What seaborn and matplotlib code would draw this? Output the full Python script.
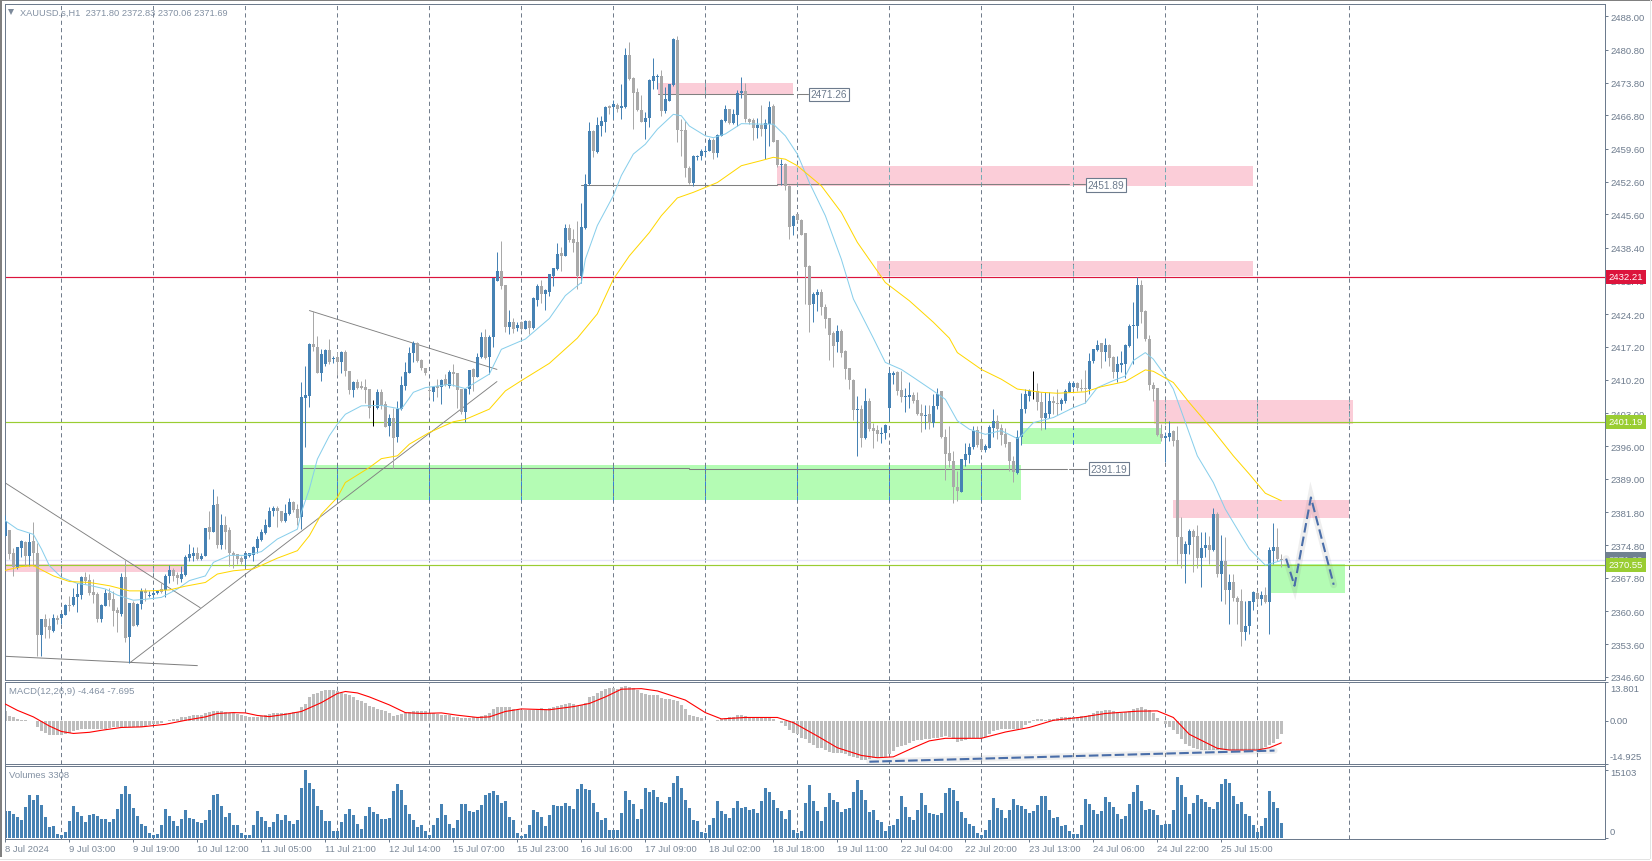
import numpy as np
import matplotlib
matplotlib.use("Agg")
import matplotlib.pyplot as plt
from matplotlib.patches import Rectangle
from matplotlib.transforms import blended_transform_factory
import seaborn as sns

opens = [
2376.8,2378.0,2373.1,2370.0,2374.2,2375.5,2372.5,2375.7,2373.2,2355.6,
2359.0,2357.5,2356.5,2359.3,2359.1,2359.9,2362.0,2362.0,2363.6,2364.1,
2368.0,2367.4,2364.7,2364.3,2359.0,2361.8,2364.5,2363.2,2361.0,2360.0,
2368.0,2355.2,2362.3,2357.7,2362.2,2365.0,2363.8,2364.1,2364.5,2365.4,
2365.2,2368.2,2369.4,2368.4,2367.5,2368.4,2372.0,2372.5,2373.1,2371.8,
2372.5,2378.6,2377.6,2383.5,2374.8,2379.1,2378.0,2373.2,2372.9,2372.0,
2371.8,2372.5,2372.7,2374.2,2375.9,2377.4,2378.7,2382.1,2382.7,2382.1,
2380.0,2381.4,2384.1,2382.5,2380.9,2406.2,2406.7,2417.8,2417.3,2411.7,
2413.5,2416.6,2414.6,2415.0,2414.0,2416.2,2412.0,2408.0,2409.7,2408.9,
2408.7,2408.2,2404.3,2404.2,2407.5,2405.0,2400.3,2401.9,2398.0,2403.9,
2408.9,2411.7,2416.0,2418.0,2414.4,2412.8,2408.0,2407.6,2408.9,2408.7,
2410.3,2408.9,2411.9,2411.7,2408.2,2403.2,2408.2,2412.4,2410.8,2415.0,
2419.4,2415.0,2419.3,2431.4,2433.5,2430.5,2421.4,2422.6,2421.2,2422.5,
2421.0,2422.8,2421.2,2427.3,2430.3,2428.5,2428.9,2432.5,2433.9,2437.3,
2436.6,2442.7,2440.3,2439.7,2432.5,2442.6,2452.0,2463.4,2459.0,2464.5,
2465.4,2468.7,2468.5,2469.1,2468.3,2468.5,2479.7,2474.7,2471.7,2467.9,
2465.4,2466.2,2474.2,2475.0,2475.1,2467.8,2469.9,2473.2,2482.9,2463.7,
2463.6,2455.6,2452.4,2457.9,2458.0,2459.0,2459.2,2461.5,2458.7,2462.4,
2465.5,2468.1,2465.1,2466.9,2471.5,2472.0,2466.1,2465.8,2464.0,2464.8,
2463.8,2464.9,2468.8,2461.5,2456.1,2456.3,2451.7,2443.0,2445.6,2444.4,
2441.6,2434.6,2426.3,2428.4,2429.0,2425.8,2423.3,2420.2,2418.3,2420.7,
2416.4,2412.6,2410.2,2403.7,2403.9,2397.7,2405.7,2399.8,2399.5,2398.5,
2398.7,2404.1,2411.2,2411.9,2408.0,2406.5,2406.6,2407.0,2405.8,2403.0,
2402.5,2402.8,2400.9,2404.6,2407.7,2398.0,2394.5,2392.8,2387.3,2386.2,
2393.0,2394.1,2395.8,2399.5,2397.5,2395.2,2395.6,2399.9,2401.3,2399.8,
2398.5,2396.8,2392.7,2390.3,2398.0,2403.9,2406.7,2407.7,2407.8,2405.5,
2402.0,2402.8,2405.6,2405.3,2405.0,2405.7,2407.6,2408.7,2409.5,2408.5,
2408.3,2408.2,2414.2,2416.6,2418.0,2416.2,2417.6,2415.0,2411.9,2413.3,
2413.5,2417.5,2421.6,2421.6,2430.4,2424.9,2419.0,2409.0,2408.5,2398.6,
2397.8,2397.9,2399.3,2397.3,2376.6,2372.8,2374.8,2377.9,2376.7,2372.1,
2374.1,2374.8,2373.8,2381.4,2368.6,2371.4,2365.1,2366.8,2363.5,2362.8,
2356.3,2357.4,2362.7,2364.5,2363.3,2364.1,2362.7,2373.6,2374.3,2371.80]

closes = [
2380.0,2372.9,2370.2,2374.3,2375.7,2372.5,2375.4,2373.2,2355.6,2359.0,
2357.3,2356.7,2359.3,2358.8,2360.0,2362.0,2361.8,2363.6,2364.3,2368.0,
2367.2,2364.5,2364.2,2359.0,2362.0,2364.5,2363.1,2360.7,2360.3,2368.0,
2355.0,2362.3,2357.5,2362.2,2364.9,2364.5,2364.2,2364.5,2365.0,2364.7,
2368.2,2369.4,2368.2,2367.8,2368.6,2372.2,2372.9,2373.1,2371.8,2372.5,
2378.4,2377.6,2383.4,2374.8,2379.0,2377.6,2373.2,2372.7,2371.8,2371.2,
2373.0,2373.0,2374.4,2376.1,2377.7,2379.0,2382.1,2382.7,2382.0,2380.0,
2381.6,2384.1,2382.4,2380.7,2406.4,2406.9,2417.8,2417.3,2411.6,2415.6,
2416.6,2414.0,2414.8,2414.0,2416.2,2412.1,2408.0,2409.6,2408.5,2408.5,
2408.0,2404.2,2404.3,2407.5,2404.8,2400.1,2401.9,2397.8,2403.9,2409.0,
2411.9,2416.0,2418.1,2414.2,2412.8,2411.6,2407.7,2408.7,2408.4,2410.2,
2409.0,2411.9,2411.4,2408.0,2403.3,2408.2,2412.2,2410.7,2415.0,2419.4,
2414.8,2419.4,2431.9,2433.5,2430.3,2421.4,2422.6,2421.0,2421.9,2421.0,
2422.8,2421.2,2427.6,2430.3,2428.5,2429.5,2432.8,2434.0,2437.1,2436.6,
2442.6,2440.2,2439.4,2432.5,2442.8,2452.0,2463.4,2459.2,2464.7,2465.6,
2468.6,2468.3,2469.2,2468.1,2468.7,2479.7,2474.5,2471.5,2467.9,2465.4,
2466.3,2474.4,2475.1,2475.2,2467.8,2470.3,2473.5,2483.1,2463.7,2463.5,
2455.6,2452.4,2458.1,2458.1,2459.2,2459.2,2461.5,2458.8,2462.5,2465.8,
2468.1,2465.1,2467.0,2471.5,2471.9,2465.9,2465.4,2464.0,2464.8,2463.8,
2465.1,2468.5,2461.1,2456.2,2456.3,2451.6,2442.9,2445.3,2444.4,2441.2,
2434.4,2426.2,2428.6,2429.0,2425.7,2423.2,2419.8,2417.4,2420.7,2416.0,
2412.4,2410.1,2403.7,2403.9,2397.8,2405.7,2399.6,2399.3,2398.5,2398.7,
2400.5,2411.6,2411.6,2407.8,2406.6,2406.7,2406.9,2405.7,2402.8,2402.5,
2402.6,2400.9,2404.6,2407.1,2398.0,2394.4,2392.8,2387.3,2386.3,2393.2,
2394.3,2395.9,2399.3,2396.2,2395.2,2396.0,2400.1,2401.3,2399.6,2398.3,
2396.4,2392.7,2390.5,2398.0,2404.0,2407.1,2407.7,2407.7,2405.5,2402.0,
2403.0,2405.6,2405.3,2405.0,2405.9,2407.7,2409.4,2409.5,2408.4,2408.2,
2408.2,2414.2,2416.7,2417.6,2416.2,2417.6,2414.8,2411.8,2413.5,2413.8,
2417.6,2421.6,2421.9,2430.4,2424.7,2418.9,2409.1,2408.3,2398.4,2397.7,
2398.1,2398.7,2397.1,2376.6,2372.8,2375.0,2377.9,2376.5,2372.1,2374.2,
2374.8,2373.8,2381.4,2368.6,2371.3,2365.1,2366.8,2363.4,2362.6,2356.3,
2357.4,2362.8,2364.7,2363.3,2364.1,2362.7,2373.7,2374.3,2371.8,2371.69]

highs = [
2381.2,2378.0,2374.1,2374.3,2375.9,2375.7,2377.3,2379.8,2375.2,2359.0,
2360.0,2359.1,2360.0,2359.8,2360.0,2362.2,2364.0,2365.7,2366.7,2368.1,
2369.0,2368.7,2367.5,2364.7,2362.2,2365.3,2365.7,2365.0,2361.5,2368.8,
2371.7,2362.3,2362.9,2362.5,2365.7,2365.7,2365.0,2365.7,2365.2,2366.7,
2368.7,2370.5,2369.8,2369.0,2370.4,2372.7,2375.0,2374.3,2374.3,2373.2,
2378.4,2382.1,2386.8,2385.4,2381.4,2381.1,2378.6,2373.6,2372.9,2372.5,
2373.2,2373.2,2374.7,2376.8,2378.2,2380.4,2382.9,2383.2,2383.2,2382.1,
2383.6,2384.8,2384.3,2383.6,2409.8,2413.2,2418.1,2425.0,2419.6,2416.7,
2416.7,2418.9,2415.2,2416.2,2416.4,2416.6,2412.0,2410.0,2410.4,2410.0,
2410.3,2408.3,2405.8,2408.3,2408.3,2405.7,2402.8,2404.2,2405.7,2410.9,
2413.9,2417.1,2418.5,2418.3,2414.6,2412.8,2408.9,2408.9,2410.3,2410.4,
2411.4,2412.3,2413.5,2411.7,2408.2,2408.5,2412.3,2412.6,2415.9,2420.5,
2421.0,2419.7,2431.9,2437.6,2439.9,2430.5,2425.1,2423.5,2422.6,2422.8,
2422.9,2423.0,2428.0,2430.7,2431.6,2429.7,2432.8,2434.0,2439.4,2438.5,
2443.5,2443.5,2442.4,2444.2,2448.0,2454.2,2465.4,2463.6,2466.5,2466.7,
2468.8,2469.0,2470.0,2469.5,2473.5,2481.3,2482.4,2474.9,2472.7,2471.1,
2467.4,2474.5,2479.0,2475.6,2476.5,2472.9,2473.5,2483.4,2483.7,2466.0,
2465.6,2456.0,2458.3,2458.3,2459.6,2460.3,2462.0,2462.0,2462.8,2466.0,
2469.0,2468.2,2468.1,2472.2,2475.0,2473.8,2466.3,2466.3,2466.3,2469.0,
2466.1,2469.9,2469.2,2461.6,2457.5,2456.6,2451.9,2445.4,2445.6,2444.6,
2441.6,2434.7,2428.9,2429.6,2429.6,2426.5,2423.5,2420.7,2421.8,2421.0,
2416.5,2412.6,2410.3,2406.7,2404.7,2408.5,2406.2,2401.0,2400.5,2400.0,
2400.7,2412.4,2412.0,2412.1,2412.1,2408.4,2409.7,2407.6,2407.5,2405.0,
2404.7,2404.7,2407.1,2408.5,2407.8,2399.6,2400.2,2395.0,2390.7,2393.3,
2396.6,2396.6,2400.2,2400.2,2399.6,2396.4,2400.5,2404.0,2402.6,2400.7,
2399.8,2396.9,2393.8,2399.5,2407.3,2408.2,2408.3,2412.0,2409.5,2407.5,
2407.5,2407.5,2406.7,2408.3,2406.2,2408.2,2410.0,2410.0,2409.7,2410.3,
2412.2,2416.0,2416.7,2418.7,2418.0,2419.2,2417.8,2415.2,2415.2,2416.4,
2417.8,2422.1,2426.9,2432.2,2431.6,2425.1,2419.7,2409.8,2408.5,2400.7,
2398.9,2401.3,2399.5,2400.3,2380.9,2375.7,2378.2,2378.2,2379.0,2377.5,
2377.7,2376.8,2382.7,2381.8,2376.9,2376.6,2368.6,2368.6,2363.8,2365.5,
2362.9,2362.9,2365.0,2365.0,2365.0,2365.8,2374.3,2379.5,2378.4,2372.83]

lows = [
2376.8,2371.8,2368.2,2369.7,2372.2,2370.4,2370.4,2370.4,2351.1,2351.1,
2355.0,2355.0,2356.1,2357.9,2357.9,2359.9,2360.7,2361.8,2360.4,2363.2,
2366.5,2364.1,2362.5,2358.3,2358.3,2361.7,2361.8,2357.4,2356.3,2359.7,
2354.1,2349.6,2357.4,2357.5,2361.1,2362.9,2363.6,2363.2,2364.3,2364.5,
2363.6,2366.7,2367.2,2366.5,2366.8,2368.2,2371.4,2371.4,2371.7,2371.7,
2372.5,2376.1,2377.5,2374.1,2374.0,2374.0,2370.4,2370.0,2370.7,2370.7,
2370.4,2372.2,2371.4,2373.0,2375.7,2377.1,2378.6,2381.1,2378.6,2379.8,
2379.8,2381.3,2381.8,2379.0,2378.2,2395.8,2404.4,2416.4,2411.6,2410.0,
2413.2,2413.5,2413.7,2411.2,2411.7,2411.0,2407.1,2406.6,2408.2,2408.2,
2405.3,2402.1,2400.3,2403.9,2403.9,2400.0,2398.2,2391.4,2396.9,2403.7,
2408.0,2411.6,2413.9,2414.0,2412.3,2411.2,2406.6,2405.7,2406.4,2405.0,
2408.9,2408.5,2408.9,2404.2,2402.8,2401.2,2407.1,2407.8,2410.7,2414.8,
2414.7,2411.4,2417.1,2431.4,2429.6,2420.5,2420.0,2420.3,2420.7,2420.9,
2421.0,2420.0,2421.0,2426.0,2426.6,2425.2,2428.2,2430.3,2433.7,2433.5,
2436.6,2439.6,2437.5,2429.6,2431.0,2442.4,2451.9,2457.9,2458.8,2462.3,
2463.3,2467.0,2466.0,2467.5,2466.1,2468.3,2474.4,2463.8,2467.8,2465.3,
2461.7,2464.2,2472.4,2472.4,2466.7,2467.3,2469.9,2473.1,2461.1,2458.1,
2453.5,2452.1,2451.6,2457.2,2457.2,2458.1,2459.1,2457.5,2457.8,2462.3,
2465.3,2464.9,2464.9,2464.5,2470.6,2465.4,2464.9,2461.5,2462.0,2462.3,
2457.4,2460.3,2461.0,2455.8,2451.9,2450.9,2440.4,2441.2,2444.2,2441.2,
2426.4,2420.5,2422.6,2425.0,2424.0,2421.2,2414.4,2413.0,2416.2,2415.0,
2410.4,2408.3,2401.5,2393.8,2395.9,2397.5,2399.3,2395.5,2397.1,2396.6,
2397.6,2401.5,2409.2,2406.9,2405.5,2403.3,2404.2,2405.3,2402.6,2399.0,
2399.6,2399.6,2400.0,2403.9,2397.8,2388.8,2391.6,2383.9,2384.3,2386.1,
2391.8,2392.3,2395.3,2395.7,2395.0,2394.8,2395.5,2398.0,2397.5,2396.2,
2395.9,2390.7,2388.3,2390.0,2396.3,2403.0,2405.7,2406.0,2403.7,2399.5,
2399.6,2401.9,2402.8,2402.6,2403.7,2405.3,2407.5,2408.5,2407.8,2407.8,
2405.2,2407.1,2413.7,2416.4,2412.8,2414.3,2413.2,2410.5,2409.8,2411.8,
2410.5,2417.3,2413.5,2419.2,2422.3,2418.5,2408.0,2405.7,2398.2,2397.1,
2392.6,2397.1,2396.1,2370.8,2370.0,2366.7,2372.9,2369.1,2370.0,2365.9,
2372.2,2370.8,2373.6,2367.9,2362.9,2362.2,2357.9,2362.9,2357.9,2353.3,
2354.4,2355.8,2360.8,2362.2,2362.0,2362.4,2355.8,2370.8,2371.5,2370.06]

volumes = [
5920,6068,5402,4588,4070,6956,9620,8510,9620,7400,4588,2516,2664,962,740,1406,3848,7178,5846,4810,
3626,5180,5402,4884,4292,4292,3626,4292,6512,9842,11618,9842,6734,4810,3182,2590,1184,740,962,2960,
6512,4958,3848,2738,4292,6142,4514,4292,3626,3404,4070,6290,9620,9842,7178,4736,5624,2960,2960,1184,
740,740,2960,6068,4736,3848,2516,3626,5402,4070,5180,3848,3182,4070,11174,15103,12284,10952,7178,6290,
3848,3848,1628,1628,3626,5402,6512,5180,3182,2072,4958,6956,5846,5402,4292,4292,4514,10508,12062,10730,
7400,5402,4070,2516,2960,1628,740,2960,4514,7622,5180,3182,2294,4070,7622,7622,6068,5846,6290,7400,
9620,10064,10508,9620,7844,8288,4736,4070,1184,518,962,2960,6290,5846,4736,2738,5180,7400,7178,7178,
7844,7178,6512,10952,12062,10952,10730,7844,5846,4070,4514,1850,1850,1850,5624,10508,8510,7622,4292,6512,
11174,10286,10730,9176,
8066,7844,9176,12284,13838,11174,8510,6734,4070,3848,1406,1184,2960,4514,8288,6068,5402,4514,6734,8288,
6734,6956,6290,6512,5624,8288,11174,10286,8510,6734,6068,4292,6290,1850,1184,1628,7844,11840,8288,6068,
3848,6956,9990,8510,8066,5846,6512,6734,10286,12876,10730,8510,5846,6290,4070,3626,1628,2738,2960,4292,
9324,6956,4736,4070,6290,9990,7400,5624,5402,5180,5624,9990,11100,10656,8288,5846,4514,3182,2738,1184,
740,1850,4070,8954,6734,6290,4514,6290,8732,7400,7178,6512,5624,6068,7400,9398,9398,6290,4514,4736,
2738,2960,1628,962,962,2960,8732,7622,6290,5402,6068,9176,8066,6956,5402,4292,4958,7622,10286,11840,
8288,6290,6512,6290,5180,2960,3182,3182,6290,13542,11840,9176,5402,7844,9620,8732,8066,6956,6512,8066,
12062,13172,12284,9398,7622,8066,5402,4958,2960,1406,2738,4514,10508,8066,6734,3404]

macd_hist = [
3.5,1.8,1.2,.6,.4,.2,.1,.1,
-2.1,-3.5,-4.2,-4.8,-5.0,-5.0,-4.9,-4.7,-4.1,-3.7,-3.3,-2.9,-2.9,-2.9,-2.9,-2.8,-2.8,-2.7,-2.6,-2.3,-2.1,-2.1,
-2.0,-2.0,-2.0,-2.0,-2.0,-1.9,-1.5,-1.2,-1.1,-.6,-.1,
.4,.7,.8,1.2,1.4,1.6,1.9,1.9,2.1,2.7,3.2,3.4,3.4,3.4,3.2,2.9,2.7,2.5,1.9,1.6,1.5,1.5,1.5,1.8,1.9,2.3,2.7,2.7,2.7,
2.8,2.9,3.2,3.2,4.7,5.9,8.2,9.4,9.7,10.5,10.8,10.9,10.8,10.5,9.9,9.4,9.0,8.2,7.4,7.0,6.2,5.3,4.8,4.2,3.9,3.3,2.8,
1.8,2.1,2.5,2.9,3.2,3.4,3.4,3.4,3.4,2.9,2.6,2.3,2.1,1.9,1.9,1.5,1.4,1.1,.9,.9,1.2,1.5,1.8,2.1,2.9,4.1,4.8,5.0,4.9,
4.7,4.3,3.9,3.7,3.9,3.9,3.9,4.1,4.4,4.1,4.6,4.9,5.1,5.6,5.9,6.2,5.9,5.3,5.6,6.4,8.2,8.8,9.7,10.5,11.1,11.5,11.5,
11.1,11.7,12.1,11.9,11.5,10.8,9.9,9.4,9.1,8.9,8.9,
8.0,7.8,7.6,7.4,6.8,5.6,4.1,2.1,1.8,1.4,.9,.1,-.1,-.2,.2,.5,.9,1.2,1.5,1.9,2.0,1.8,1.5,1.4,1.2,1.2,1.2,1.2,.8,-.1,
-.9,-1.8,-3.3,-4.1,-4.7,-5.9,-6.4,-7.6,-8.4,-9.4,-9.6,-10.3,-10.8,-11.1,-11.1,-11.3,-11.7,-12.3,-12.6,-12.9,-13.8,
-13.8,-13.5,-13.1,-13.1,-13.1,-12.6,-11.7,-10.5,-9.1,-8.9,-8.4,-7.6,-7.0,-6.8,-6.7,-6.4,-6.4,-6.1,-5.9,-5.6,-5.3,
-5.6,-6.4,-7.4,-7.0,-6.7,-6.1,-5.9,-5.9,-5.9,-5.6,-4.7,-3.5,-3.2,-3.0,-3.0,-2.9,-2.9,-2.7,-2.6,-1.4,-.6,.2,.5,.5,
.4,.6,.8,.9,1.2,1.2,1.2,1.4,1.5,1.6,1.8,2.1,2.6,3.3,3.5,3.7,3.7,3.5,3.2,2.9,3.2,3.5,4.0,4.4,4.7,4.3,3.7,2.9,.9,-.2,
-1.2,-2.1,-3.3,-4.7,-6.4,-8.0,-8.8,-9.4,-9.9,-10.2,-10.3,-10.3,-10.3,-10.3,-10.3,-10.3,-10.3,-10.3,-10.3,-10.3,
-10.3,-10.3,-10.3,-10.3,-9.9,-9.1,-8.4,-7.6,-6.4,-4.464]

signal_bars = [0,3,7,11,14,17,21,24,29,34,40,45,50,53,57,60,63,66,70,74,79,83,85,88,91,96,100,104,109,113,118,121,
125,129,136,142,146,150,154,159,163,170,175,179,185,193,197,203,208,214,218,222,227,231,235,239,244,250,256,262,
269,275,283,288,292,296,303,306,313,316,319]
signal_vals = [5.9,3.7,1.4,-1.8,-3.7,-4.4,-4.0,-3.3,-2.3,-2.1,-1.2,.2,1.4,2.6,2.9,2.8,1.9,1.5,2.3,3.3,6.4,9.6,10.3,9.8,
8.4,5.6,2.9,2.6,2.8,2.0,1.2,1.4,3.3,4.2,3.9,5.0,6.1,8.4,11.1,11.3,10.5,7.3,2.9,.7,1.2,1.2,-.6,-5.3,-9.4,-12.1,-12.9,
-12.6,-9.4,-7.0,-6.1,-6.1,-6.1,-3.9,-2.3,.2,1.3,2.6,3.4,3.5,1.2,-4.7,-9.6,-10.2,-10.2,-9.4,-7.695]

fast_bars = [0,3,7,9,11,14,18,21,25,28,32,35,39,43,46,50,52,56,60,64,68,73,74,76,78,81,83,85,89,94,99,102,105,111,115,
121,124,130,136,140,144,145,148,152,154,157,160,163,167,169,171,175,177,180,184,189,192,195,198,201,205,209,212,217,
220,224,227,232,235,238,241,245,249,253,254,257,262,267,270,273,277,280,282,285,287,290,292,295,298,302,305,309,311,315,319]
fast_vals = [2380.0,2378.2,2377.1,2374.0,2370.4,2367.9,2366.6,2366.2,2365.4,2364.1,2363.0,2363.2,2363.6,2365.4,2367.2,
2368.2,2371.1,2372.6,2372.6,2373.4,2376.1,2378.2,2381.8,2386.8,2393.2,2398.2,2400.7,2402.8,2404.6,2404.7,2403.9,
2407.5,2408.5,2409.2,2408.3,2411.4,2416.7,2418.9,2423.3,2428.2,2431.0,2436.0,2443.2,2449.6,2453.9,2458.5,2460.6,
2463.8,2467.0,2466.7,2464.5,2462.4,2462.0,2462.8,2465.0,2464.9,2464.9,2462.4,2458.5,2452.4,2445.3,2436.0,2427.5,
2419.1,2413.9,2412.4,2410.7,2407.8,2406.0,2401.4,2399.6,2398.5,2399.3,2397.6,2398.2,2401.0,2402.1,2404.2,2405.2,
2408.5,2410.0,2411.0,2414.3,2416.0,2414.6,2411.0,2408.2,2401.1,2393.9,2388.2,2382.5,2376.8,2374.0,2370.5,2371.5]

slow_bars = [0,4,7,12,16,21,26,31,36,41,45,50,53,57,62,68,73,76,79,83,85,91,94,98,101,106,112,115,121,125,129,136,143,
148,152,156,161,164,168,172,178,184,189,192,195,198,204,209,213,220,226,232,236,238,244,249,253,259,263,270,274,280,
285,287,292,296,302,307,311,315,319]
slow_vals = [2369.4,2370.2,2370.4,2368.2,2367.0,2366.8,2366.1,2365.0,2365.0,2365.2,2366.0,2366.8,2368.6,2369.3,2369.7,
2372.0,2373.6,2376.8,2381.4,2385.0,2388.2,2391.4,2393.3,2393.9,2396.4,2398.9,2401.2,2401.7,2403.9,2407.8,2410.0,
2413.7,2419.1,2424.3,2431.7,2436.7,2441.7,2445.3,2449.1,2450.3,2452.4,2456.0,2457.1,2457.8,2457.4,2456.0,2451.7,
2446.0,2439.6,2431.0,2427.1,2422.5,2419.1,2416.0,2412.4,2410.3,2408.2,2407.5,2407.3,2407.6,2408.7,2409.8,2412.3,
2412.0,2409.6,2405.3,2399.3,2393.9,2390.0,2385.9,2384.3]

price_ticks = [2488.00,2480.80,2473.80,2466.80,2459.60,2452.60,2445.60,2438.40,2431.40,2424.20,2417.20,2410.20,
2403.00,2396.00,2389.00,2381.80,2374.80,2367.80,2360.60,2353.60,2346.60]
time_labels = ["8 Jul 2024","9 Jul 03:00","9 Jul 19:00","10 Jul 12:00","11 Jul 05:00","11 Jul 21:00","12 Jul 14:00",
"15 Jul 07:00","15 Jul 23:00","16 Jul 16:00","17 Jul 09:00","18 Jul 02:00","18 Jul 18:00","19 Jul 11:00",
"22 Jul 04:00","22 Jul 20:00","23 Jul 13:00","24 Jul 06:00","24 Jul 22:00","25 Jul 15:00"]

pink_zones = [(-1,44.7,2369.1,2370.7),(163.2,196.9,2471.3,2473.7),(192.9,312,2451.7,2455.9),
              (217.9,312,2432.3,2435.6),(287.05,337,2400.8,2405.8),(291.9,336,2380.5,2384.4)]
green_zones = [(74.3,253.9,2384.4,2391.9),(254.1,288.8,2396.4,2399.8),(316.4,334.9,2364.6,2370.7)]

H_RED, H_GREEN_A, H_GREEN_B, BID = 2432.21, 2401.19, 2370.55, 2371.69
zigzag_bars, zigzag_vals = [320.2,322.3,326.4,332.1], [2371.9,2366.1,2385.0,2366.3]
macd_trend_bars, macd_trend_vals = [216,317.3], [-14.3,-10.4]

BLUE, GREY, SLATE = "#4682b4", "#a9a9a9", "#6d7b8d"
W, H = 1652, 862
sns.set_style("white")
plt.rcParams["font.family"] = ["Liberation Sans", "DejaVu Sans"]
FS = 6.8
fig = plt.figure(figsize=(W/100, H/100), dpi=100, facecolor="white")

def rect(l, t, r, b):
    return [l/W, 1-b/H, (r-l)/W, (b-t)/H]

ax = fig.add_axes(rect(4.5, 4.5, 1604.5, 680.5))
ax2 = fig.add_axes(rect(4.5, 682.5, 1604.5, 764.5))
ax3 = fig.add_axes(rect(4.5, 766.5, 1604.5, 839.5))
XLIM = (-0.22, 399.8)
day_lines = [14+23*k for k in range(15)]
DASH = (0, (4.4, 3.4))

for a in (ax, ax2, ax3):
    a.set_facecolor("white")
    for s in a.spines.values():
        s.set_color(SLATE); s.set_linewidth(0.72)
    a.vlines(day_lines, 0, 1, transform=a.get_xaxis_transform(), color="#6a7686",
             lw=0.68, linestyles=DASH, zorder=1.2)

# zones
for x0, x1, y0, y1 in pink_zones:
    ax.add_patch(Rectangle((x0, y0), x1-x0, y1-y0, fc="#fbcdd8", ec="none", zorder=0.8))
    for d in day_lines:
        if x0 < d < x1:
            ax.vlines(d, y0, y1, color="#74b0b8", lw=0.68, linestyles=DASH, zorder=1.3)
for x0, x1, y0, y1 in green_zones:
    ax.add_patch(Rectangle((x0, y0), x1-x0, y1-y0, fc="#b4fcb4", ec="none", zorder=0.8))
    for d in day_lines:
        if x0 < d < x1:
            ax.vlines(d, y0, y1, color="#2f7de0", lw=0.68, linestyles=DASH, zorder=1.3)

# level lines
ax.axhline(BID, color="#e6e6fa", lw=1.0, zorder=1.5)
ax.axhline(H_GREEN_A, color="#9acd32", lw=0.85, zorder=1.6)
ax.axhline(H_GREEN_B, color="#9acd32", lw=0.85, zorder=1.6)
ax.axhline(H_RED, color="#dc143c", lw=0.85, zorder=1.6)

# object lines
LINE = "#808080"
ax.plot([-0.2, 48.7], [2388.2, 2361.4], color=LINE, lw=0.65, zorder=2)
ax.plot([-0.2, 48], [2351.0, 2349.0], color=LINE, lw=0.72, zorder=2)
ax.plot([31.1, 122.9], [2349.6, 2409.8], color=LINE, lw=0.65, zorder=2)
ax.plot([76, 122.9], [2425.0, 2412.4], color=LINE, lw=0.65, zorder=2)
ax.plot([74.3, 171], [2391.4, 2391.4], color=LINE, lw=0.75, zorder=2)
ax.plot([171, 265.5], [2391.19, 2391.19], color=LINE, lw=0.75, zorder=2)
ax.plot([265.8, 270.5], [2391.19, 2391.19], color=LINE, lw=0.75, zorder=2)
ax.plot([143.9, 192.9], [2451.89, 2451.89], color=LINE, lw=0.75, zorder=2)
ax.plot([192.9, 266], [2452.1, 2452.1], color=LINE, lw=0.75, zorder=2)
ax.plot([267, 270], [2452.1, 2452.1], color=LINE, lw=0.75, zorder=2)
ax.plot([163.2, 196.9], [2471.26, 2471.26], color=LINE, lw=0.75, zorder=2)
ax.plot([198, 200.7], [2471.26, 2471.26], color=LINE, lw=0.75, zorder=2)

# candles
o, c, hi, lo = map(np.array, (opens, closes, highs, lows))
n = len(c)
bars = np.arange(n)
cols = np.where(c > o, BLUE, np.where(c < o, GREY, "#000000"))
ax.vlines(bars, lo, hi, colors=cols, lw=0.72, zorder=3)
ax.bar(bars, np.maximum(np.abs(c-o), 0.15), bottom=np.minimum(o, c), width=0.72, color=cols, linewidth=0, zorder=3.2)

# moving averages
sns.lineplot(x=fast_bars, y=fast_vals, color="#87ceeb", lw=0.72, ax=ax, sort=False, estimator=None, errorbar=None, zorder=4)
sns.lineplot(x=slow_bars, y=slow_vals, color="#ffd700", lw=0.72, ax=ax, sort=False, estimator=None, errorbar=None, zorder=4)

# forecast
ax.plot(zigzag_bars, zigzag_vals, color="#808080", alpha=0.13, lw=5, zorder=4.5, solid_joinstyle="miter")
ax.plot(zigzag_bars, zigzag_vals, color="#4a6ea9", lw=1.5, ls=(0, (4.6, 2.0)), zorder=5)

ax.set_xlim(*XLIM)
ax.set_ylim(2346.03, 2490.72)
ax.set_xticks([])
ax.yaxis.tick_right()
ax.set_yticks(price_ticks)
ax.set_yticklabels([f"{t:.2f}" for t in price_ticks])
ax.tick_params(axis="y", length=2, width=0.72, color=SLATE, labelcolor=SLATE, labelsize=FS, pad=2.4, right=True)
ax.set_xlabel(""); ax.set_ylabel("")

# labels on levels
tr = blended_transform_factory(ax.transAxes, ax.transData)
for val, fc, tc in ((BID, "#708090", "#c8d0d8"), (H_GREEN_B, "#9acd32", "white"), (H_GREEN_A, "#9acd32", "white"), (H_RED, "#dc143c", "white")):
    ax.text(1.0028, val, f"{val:.2f}", transform=tr, ha="left", va="center", fontsize=FS, color=tc, clip_on=False,
            zorder=8, bbox=dict(boxstyle="square,pad=0.28", fc=fc, ec="none"))
for bar, val in ((205.9, 2471.26), (275.1, 2451.89), (275.9, 2391.19)):
    ax.text(bar, val, f"{val:.2f}", ha="center", va="center", fontsize=7.3, color=SLATE, zorder=6,
            bbox=dict(boxstyle="square,pad=0.18", fc="white", ec=SLATE, lw=0.8))
ax.text(20/W, 1-13.2/H, "XAUUSD.s,H1  2371.80 2372.83 2370.06 2371.69", transform=fig.transFigure, ha="left", va="center",
        fontsize=6.65, color="#8391a3", zorder=8)
ax.plot([0.0040], [0.9875], marker="v", ms=4, color="#7d8a9b", mew=0, transform=ax.transAxes, zorder=8, clip_on=False)

def side_label(a, val, text, dy_px):
    a.annotate(text, xy=(1, val), xycoords=a.get_yaxis_transform(), xytext=(3.9, -dy_px*0.72),
               textcoords="offset points", ha="left", va="center", fontsize=FS, color=SLATE, annotation_clip=False)

# MACD
sns.barplot(x=np.arange(len(macd_hist)), y=macd_hist, native_scale=True, color="#bebebe", saturation=1, width=0.68,
            ax=ax2, zorder=2, linewidth=0, legend=False)
sns.lineplot(x=signal_bars, y=signal_vals, color="#ff0000", lw=0.8, ax=ax2, sort=False, estimator=None, errorbar=None, zorder=4)
ax2.plot(macd_trend_bars, macd_trend_vals, color="#808080", alpha=0.12, lw=4.5, zorder=4.4)
ax2.plot(macd_trend_bars, macd_trend_vals, color="#4a6ea9", lw=1.5, ls=(0, (4.6, 1.6)), zorder=5)
ax2.set_xlim(*XLIM)
ax2.set_ylim(-14.925, 13.801)
ax2.set_xticks([])
ax2.yaxis.tick_right()
ax2.set_yticks([13.801, 0, -14.925])
ax2.set_yticklabels([])
ax2.tick_params(axis="y", length=2, width=0.72, color=SLATE, right=True)
side_label(ax2, 13.801, "13.801", 7.2)
side_label(ax2, 0, "0.00", 0)
side_label(ax2, -14.925, "-14.925", -6.8)
ax2.set_xlabel(""); ax2.set_ylabel("")
ax2.text(9/W, 1-691.7/H, "MACD(12,26,9) -4.464 -7.695", transform=fig.transFigure, ha="left", va="center",
         fontsize=FS, color="#8391a3", zorder=8)

# volumes
sns.barplot(x=np.arange(len(volumes)), y=volumes, native_scale=True, color=BLUE, saturation=1, width=0.72,
            ax=ax3, zorder=2, linewidth=0, legend=False)
ax3.set_xlim(*XLIM)
ax3.set_ylim(-148, 16132)
ax3.yaxis.tick_right()
ax3.set_yticks([15103, 0])
ax3.set_yticklabels([])
ax3.tick_params(axis="y", length=2, width=0.72, color=SLATE, right=True)
side_label(ax3, 15103, "15103", 2.5)
side_label(ax3, 0, "0", -6.5)
ax3.set_xticks([16*k for k in range(len(time_labels))])
ax3.set_xticklabels(time_labels, ha="left")
ax3.tick_params(axis="x", length=2.4, width=0.72, color=SLATE, labelcolor="#7b8898", labelsize=FS, pad=1.6, bottom=True)
ax3.set_xlabel(""); ax3.set_ylabel("")
ax3.text(9/W, 1-775.7/H, "Volumes 3308", transform=fig.transFigure, ha="left", va="center",
         fontsize=FS, color="#8391a3", zorder=8)

# outer window frame
for (x, y, w, h, col) in ((0, 0, W, 1.6, "#808080"), (0, 0, 1.6, 858, "#808080"), (0, 859.5, 1650, 1.2, "#e3e3e3"), (1649.6, 0, 1.2, 860, "#e3e3e3")):
    fig.add_artist(Rectangle((x/W, 1-(y+h)/H), w/W, h/H, transform=fig.transFigure, fc=col, ec="none"))

fig.savefig("out.png", dpi=100, facecolor="white")
